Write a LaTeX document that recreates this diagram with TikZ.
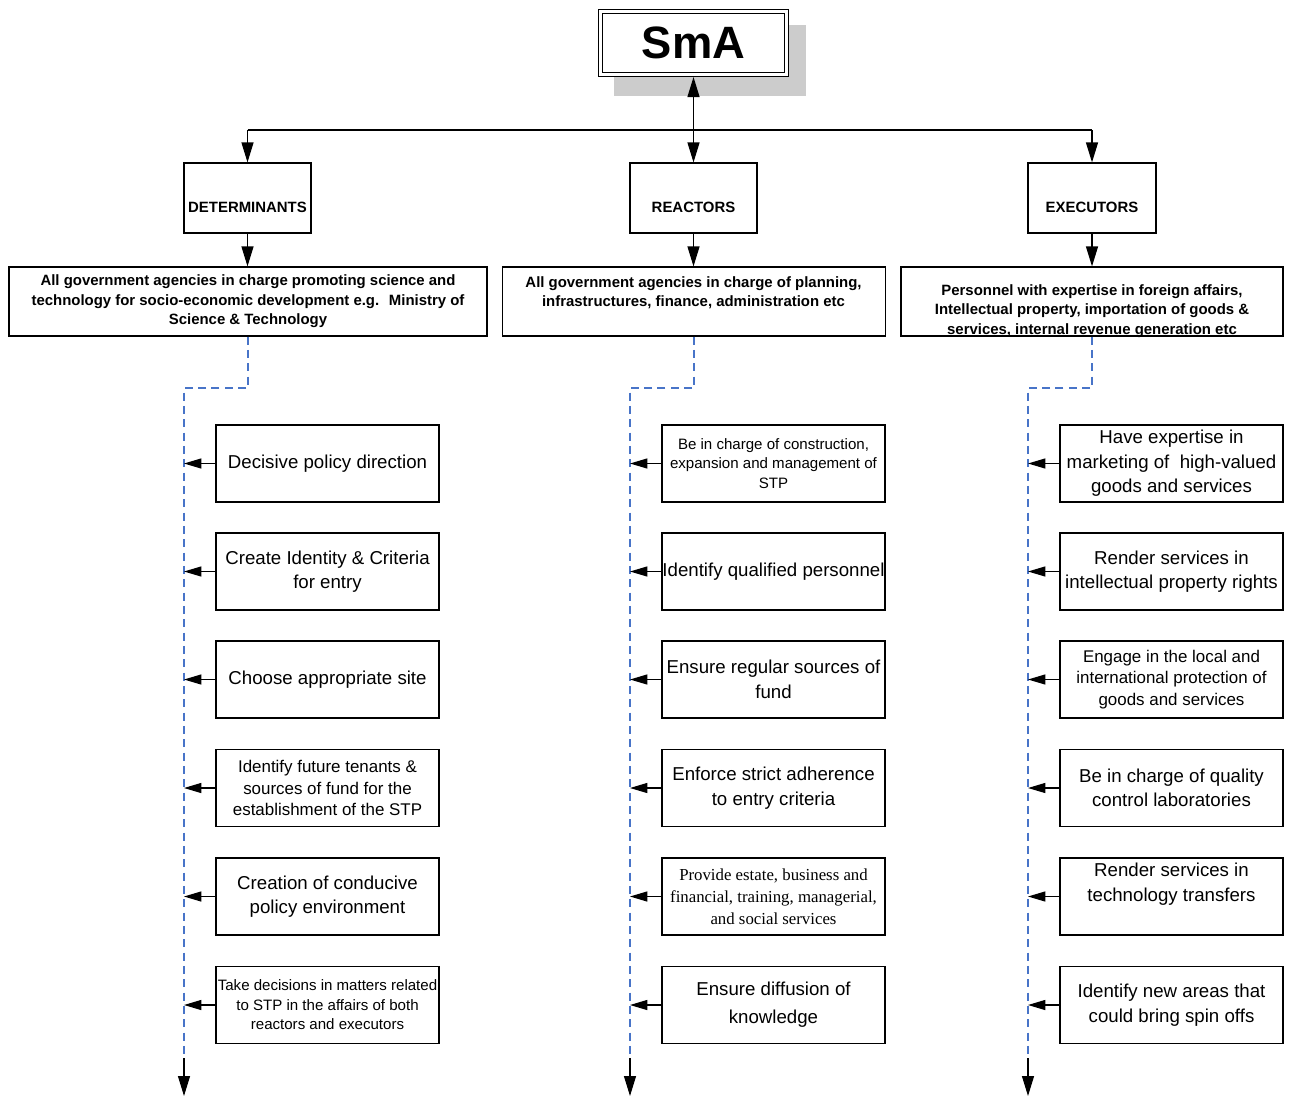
\documentclass[tikz,border=0pt]{standalone}
\usepackage{fontspec}
\setmainfont{Liberation Sans}
\newfontfamily\timesfont{Liberation Serif}
\usetikzlibrary{arrows.meta,calc}
\definecolor{trunkblue}{RGB}{72,116,200}
\definecolor{shadowgray}{RGB}{204,204,204}

\begin{document}
\begin{tikzpicture}[x=0.75pt,y=-0.75pt,
  box/.style 2 args={draw, line width=0.9pt, fill=white, rectangle, inner sep=0pt,
    align=center, minimum width={#1*0.75pt}, minimum height={#2*0.75pt}},
  task/.style={box={223}{77}, font=\fontsize{14}{18.4}\selectfont},
  role/.style={box={127}{70}, text height=21.5pt, text depth=0pt,
    font=\bfseries\fontsize{11.2}{14}\selectfont},
  hdrtxt/.style={align=center, inner sep=0pt, font=\bfseries\fontsize{11.2}{14.6}\selectfont},
  conn/.style={line width=0.9pt, -{Triangle[length=15pt,width=9pt]}},
  side/.style={line width=0.9pt, -{Triangle[length=13pt,width=7.5pt]}},
  trunk/.style={draw=trunkblue, line width=0.8pt, dash pattern=on 6pt off 4pt},
  small/.style={font=\fontsize{11.3}{14.6}\selectfont},
  medium/.style={font=\fontsize{12.7}{16.4}\selectfont}]

\useasboundingbox (0,0) rectangle (1289,1099);
\fill[white] (0,0) rectangle (1289,1099);

% ---- top node with its drop shadow
\node[fill=shadowgray, inner sep=0pt, minimum width={192*0.75pt}, minimum height={71*0.75pt}] (smashadow) at (710,60.5) {};
\node[draw, double, line width=0.8pt, double distance=2pt, fill=white, inner sep=0pt,
  minimum width={186*0.75pt}, minimum height={63*0.75pt},
  font=\bfseries\fontsize{34}{40}\selectfont] (sma) at (693.5,43) {SmA};

% ---- the three roles
\node[role] (det) at (247.5,198) {DETERMINANTS};
\node[role] (rea) at (693.5,198) {REACTORS};
\node[role, minimum width={128*0.75pt}] (exe) at (1092,198) {EXECUTORS};

% ---- who fills each role
\node[box={478}{69}, hdrtxt] (dh) at (248,301.5)
  {All government agencies in charge promoting science and\\
   technology for socio-economic development e.g.~ Ministry of\\
   Science \& Technology};
\node[box={383}{69}] (rh) at (694,301.5) {};
\node[hdrtxt] (rht) at (693.5,292.5)
  {All government agencies in charge of planning,\\
   infrastructures, finance, administration etc};
\node[box={382}{69}] (eh) at (1092,301.5) {};
\node[hdrtxt] (eht) at (1092,311)
  {Personnel with expertise in foreign affairs,\\
   Intellectual property, importation of goods \&\\
   services, internal revenue generation etc};

% ---- connectors from the top
\coordinate (hy) at (0,130);
\draw[line width=0.9pt] (det.north |- hy) -- (exe.north |- hy);
\draw[conn] (det.north |- hy) -- (det.north);
\draw[conn] (exe.north |- hy) -- (exe.north);
\draw[line width=0.9pt, {Triangle[length=15pt,width=9pt]}-{Triangle[length=15pt,width=9pt]}]
  ([yshift=-1.5pt]sma.south) -- (rea.north);
\draw[conn] (det.south) -- (det.south |- dh.north);
\draw[conn] (rea.south) -- (rea.south |- rh.north);
\draw[conn] (exe.south) -- (exe.south |- eh.north);

% ---- determinants' tasks
\node[task] (d1) at (327.5,463.5) {Decisive policy direction};
\node[task] (d2) at (327.5,571.5) {Create Identity \& Criteria\\for entry};
\node[task] (d3) at (327.5,679.5) {Choose appropriate site};
\node[task, medium] (d4) at (327.5,788) {Identify future tenants \&\\sources of fund for the\\establishment of the STP};
\node[task] (d5) at (327.5,896.5) {Creation of conducive\\policy environment};
\node[task, small] (d6) at (327.5,1005) {Take decisions in matters related\\to STP in the affairs of both\\reactors and executors};

% ---- reactors' tasks
\node[task, small] (r1) at (773.5,463.5) {Be in charge of construction,\\expansion and management of\\STP};
\node[task] (r2) at (773.5,571.5) {Identify qualified personnel};
\node[task] (r3) at (773.5,679.5) {Ensure regular sources of\\fund};
\node[task] (r4) at (773.5,788) {Enforce strict adherence\\to entry criteria};
\node[task, font=\timesfont\fontsize{12.6}{16.5}\selectfont] (r5) at (773.5,896.5) {Provide estate, business and\\financial, training, managerial,\\and social services};
\node[task, font=\fontsize{14}{21}\selectfont] (r6) at (773.5,1005) {Ensure diffusion of\\knowledge};

% ---- executors' tasks
\node[task] (e1) at (1171.5,463.5) {Have expertise in\\marketing of~ high-valued\\goods and services};
\node[task] (e2) at (1171.5,571.5) {Render services in\\intellectual property rights};
\node[task, medium] (e3) at (1171.5,679.5) {Engage in the local and\\international protection of\\goods and services};
\node[task] (e4) at (1171.5,788) {Be in charge of quality\\control laboratories};
\node[task] (e5) at (1171.5,896.5) {};
\node[align=center, inner sep=0pt, font=\fontsize{14}{18.4}\selectfont] (e5t) at (1171.5,884) {Render services in\\technology transfers};
\node[task] (e6) at (1171.5,1005) {Identify new areas that\\could bring spin offs};

% ---- dashed trunks running down each column
\coordinate (tl) at (184,388);
\coordinate (tr) at (630,388);
\coordinate (te) at (1028,388);
\coordinate (tlb) at (184,1058);
\coordinate (trb) at (630,1058);
\coordinate (teb) at (1028,1058);
\coordinate (tlend) at (184,1096);
\coordinate (trend) at (630,1096);
\coordinate (teend) at (1028,1096);

\draw[trunk] (dh.south) |- (tl) -- (tlb);
\draw[trunk] (rh.south) |- (tr) -- (trb);
\draw[trunk] (eh.south) |- (te) -- (teb);
\draw[conn] (tlb) -- (tlend);
\draw[conn] (trb) -- (trend);
\draw[conn] (teb) -- (teend);

% ---- each task points back to its trunk
\foreach \n in {d1,d2,d3,d4,d5,d6} \draw[side] (\n.west) -- (\n.west -| tl);
\foreach \n in {r1,r2,r3,r4,r5,r6} \draw[side] (\n.west) -- (\n.west -| tr);
\foreach \n in {e1,e2,e3,e4,e5,e6} \draw[side] (\n.west) -- (\n.west -| te);

\end{tikzpicture}
\end{document}
